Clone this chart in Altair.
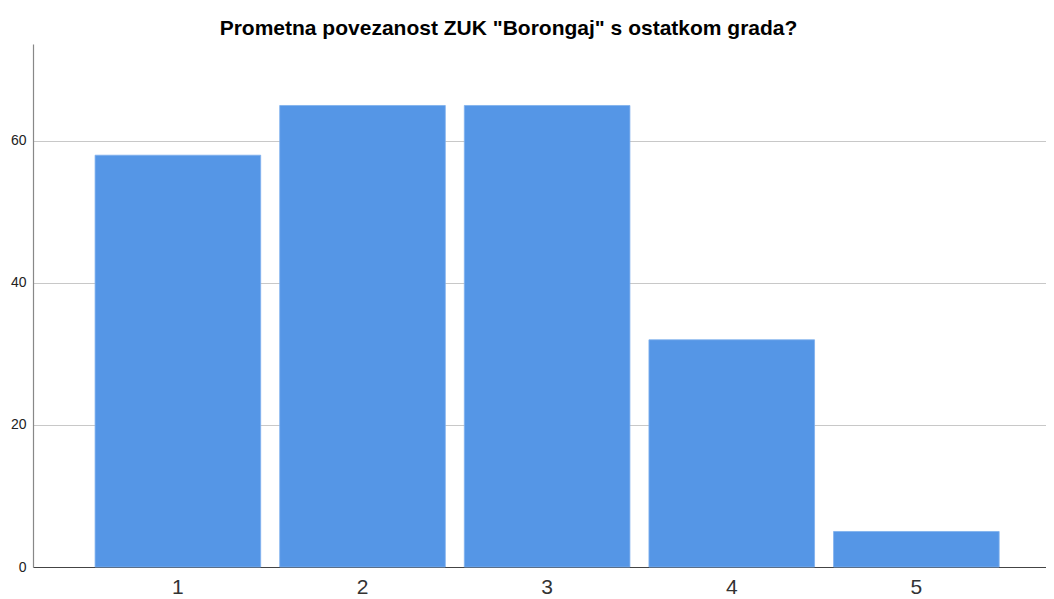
import altair as alt
import pandas as pd

categories = ["1", "2", "3", "4", "5"]
counts = [58, 65, 65, 32, 5]

df = pd.DataFrame({"kategorija": categories, "broj": counts})

chart = alt.Chart(df).mark_bar(
    color="#5596E6", stroke="#7fb0ee", strokeWidth=0.8
).encode(
    x=alt.X("kategorija:N", sort=categories, title=None,
            scale=alt.Scale(paddingInner=0.103, paddingOuter=0.295, align=0.57),
            axis=alt.Axis(labelAngle=0, labelFontSize=21, labelColor="#333333",
                          labelFont="Liberation Sans", labelPadding=9,
                          labelBaseline="top",
                          ticks=False, domainColor="#444444", domainWidth=1.2,
                          grid=False)),
    y=alt.Y("broj:Q", title=None,
            scale=alt.Scale(domain=[0, 73.66], nice=False, zero=True),
            axis=alt.Axis(values=[0, 20, 40, 60], labelFontSize=14,
                          labelColor="#222222", labelFont="Liberation Sans",
                          labelPadding=7, ticks=False, domainColor="#888888",
                          domainWidth=1.2, grid=True, gridColor="#c8c8c8",
                          gridWidth=1.2)),
).properties(
    width=1013,
    height=523,
    title=alt.TitleParams(
        "Prometna povezanost ZUK \"Borongaj\" s ostatkom grada?",
        font="Liberation Sans", fontSize=21, fontWeight="bold",
        color="#000000", anchor="middle", dx=-31, offset=5,
    ),
    autosize=alt.AutoSizeParams(type="none"),
    padding={"left": 25, "top": 36, "right": 0, "bottom": 29},
).configure_view(stroke=None)

chart.save("out.html", embed_options={"renderer": "svg", "actions": False})
